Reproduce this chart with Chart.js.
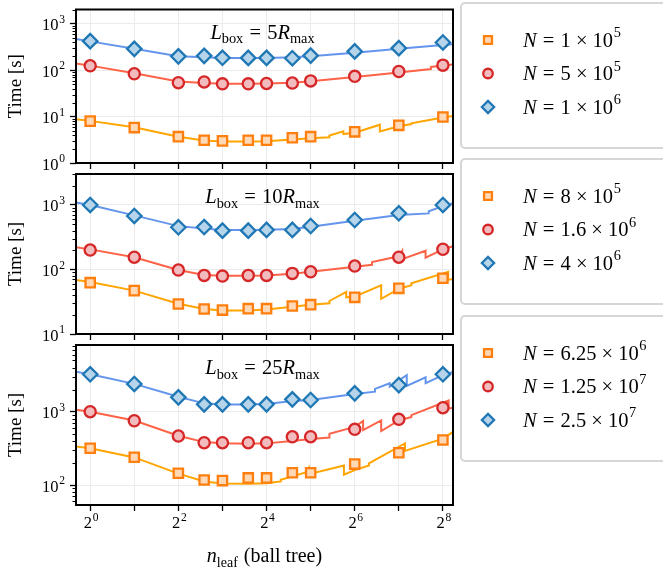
<!DOCTYPE html>
<html>
<head>
<meta charset="utf-8">
<script src="https://cdn.jsdelivr.net/npm/chart.js@4.4.0/dist/chart.umd.min.js"></script>
<style>
  body { margin: 0; background: #fff; }
  #wrap { position: relative; width: 663px; height: 574px; }
  #wrap canvas { position: absolute; left: 0; top: 0; }
</style>
</head>
<body>
<div id="wrap">
  <canvas id="c1" width="663" height="574"></canvas>
  <canvas id="c2" width="663" height="574"></canvas>
  <canvas id="c3" width="663" height="574"></canvas>
</div>
<script>
// measured leaf sizes (x of the markers)
const nLeaf = [1, 2, 4, 6, 8, 12, 16, 24, 32, 64, 128, 256];
const xTicks = [1, 2, 4, 8, 16, 32, 64, 128, 256];

// ---- panel 1 : L_box = 5 R_max
const p1Box = '5';
const p1Names = [['1', '5'], ['5', '5'], ['1', '6']];
const p1Square = [8.0, 5.8, 3.7, 3.1, 3.0, 3.1, 3.1, 3.5, 3.7, 4.7, 6.5, 9.8];
const p1Circle = [125, 84, 54, 56, 51, 51, 52, 53, 59, 74, 94, 129];
const p1Diamond = [425, 290, 200, 205, 186, 185, 185, 182, 207, 255, 300, 398];
const p1SqLineX = [0.8, 1, 2, 4, 6, 8, 12, 16, 24, 32, 43, 43, 53.5, 53.5, 64, 95, 95, 128, 156, 156, 256, 300];
const p1SqLineY = [8.8, 8.1, 5.9, 3.7, 3.05, 2.9, 2.9, 2.95, 3.2, 3.4, 3.6, 3.9, 4.8, 4.2, 4.5, 6.7, 4.8, 6.2, 6.9, 7.2, 9.6, 10.3];
const p1CiLineX = [0.8, 1, 2, 4, 6, 8, 12, 16, 24, 32, 64, 128, 212, 212, 256, 300];
const p1CiLineY = [140, 126, 86, 57, 53, 51, 51, 52, 54, 58, 72, 90, 106, 118, 126, 133];
const p1DiLineX = [0.8, 1, 2, 4, 6, 8, 12, 16, 24, 32, 64, 128, 256, 300];
const p1DiLineY = [470, 420, 290, 200, 190, 185, 183, 184, 190, 200, 240, 290, 350, 365];

// ---- panel 2 : L_box = 10 R_max
const p2Box = '10';
const p2Names = [['8', '5'], ['1.6', '6'], ['4', '6']];
const p2Square = [62.5, 47, 29.2, 24.4, 23.5, 24.7, 24.7, 27.2, 28.5, 37, 51, 73];
const p2Circle = [200, 155, 98, 81, 79, 81, 81, 87, 92, 113, 155, 206];
const p2Diamond = [1000, 675, 451, 455, 400, 400, 410, 410, 472, 585, 743, 1000];
const p2SqLineX = [0.8, 1, 2, 4, 6, 8, 12, 16, 24, 32, 43, 43, 56, 56, 64, 97, 97, 128, 156, 156, 278, 278, 300];
const p2SqLineY = [69, 64, 47, 29.5, 24.5, 23.2, 23.2, 24, 26.5, 28.5, 30, 32.5, 45, 37, 38, 57, 35, 50, 57, 61, 92, 69, 71];
const p2CiLineX = [0.8, 1, 2, 4, 6, 8, 12, 16, 24, 32, 64, 84, 84, 128, 135, 135, 195, 195, 256, 300];
const p2CiLineY = [222, 205, 155, 98, 82, 80, 80, 81, 86, 92, 110, 118, 130, 160, 195, 145, 195, 152, 205, 230];
const p2DiLineX = [0.8, 1, 2, 4, 6, 8, 12, 16, 24, 32, 64, 128, 205, 205, 256, 300];
const p2DiLineY = [1090, 1000, 690, 470, 430, 410, 410, 412, 425, 460, 570, 700, 740, 800, 960, 1060];

// ---- panel 3 : L_box = 25 R_max
const p3Box = '25';
const p3Names = [['6.25', '6'], ['1.25', '7'], ['2.5', '7']];
const p3Square = [317, 239, 145, 117, 115, 125, 125, 147, 147, 193, 276, 411];
const p3Circle = [1000, 753, 466, 378, 378, 378, 378, 455, 456, 575, 787, 1135];
const p3Diamond = [3240, 2390, 1570, 1260, 1260, 1260, 1260, 1475, 1445, 1780, 2310, 3240];
const p3SqLineX = [0.8, 1, 2, 4, 6, 8, 12, 16, 20, 20, 30, 31, 31, 54, 54, 64, 80, 80, 141, 141, 256, 300];
const p3SqLineY = [335, 318, 238, 143, 112, 105, 104, 106, 112, 118, 150, 170, 140, 185, 138, 160, 185, 198, 370, 292, 430, 530];
const p3CiLineX = [0.8, 1, 2, 4, 6, 8, 12, 16, 24, 32, 43, 43, 64, 73, 73, 97, 97, 128, 156, 156, 280, 280, 300];
const p3CiLineY = [1060, 1000, 760, 470, 385, 370, 365, 370, 400, 425, 445, 500, 620, 750, 560, 760, 545, 760, 850, 900, 1420, 1100, 1130];
const p3DiLineX = [0.8, 1, 2, 4, 6, 8, 12, 16, 24, 32, 64, 88, 88, 111, 111, 145, 145, 195, 195, 256, 300];
const p3DiLineY = [3500, 3250, 2400, 1600, 1300, 1250, 1250, 1270, 1400, 1450, 1750, 1880, 2050, 2440, 2200, 3150, 2250, 2950, 2450, 3150, 3500];

const SERIF = '"Liberation Serif", "DejaVu Serif", serif';

const styles = [
  { line: '#ffa500', edge: '#ff7f0e', face: '#ffd8b6', shape: 'rect', radius: 6.6 },
  { line: '#ff6347', edge: '#d62728', face: '#f2bcbe', shape: 'circle', radius: 5.6 },
  { line: '#6495ed', edge: '#1f77b4', face: '#b6d4ea', shape: 'rectRot', radius: 7.2 }
];

function pts(xs, ys) {
  return xs.map((x, i) => ({ x: x, y: ys[i] }));
}

function fontOf(p, size) {
  const s = (p.sub || p.sup) ? size * 0.7 : size;
  return (p.i ? 'italic ' : '') + s + 'px ' + SERIF;
}

// parts: {t, i: italic, sub, sup, g: gap before in em}
function drawRich(ctx, parts, x, y, size, align) {
  ctx.save();
  ctx.fillStyle = '#000';
  ctx.textBaseline = 'alphabetic';
  ctx.textAlign = 'left';
  let w = 0;
  parts.forEach(p => { ctx.font = fontOf(p, size); w += (p.g || 0) * size + ctx.measureText(p.t).width; });
  let cx = align === 'center' ? x - w / 2 : align === 'right' ? x - w : x;
  parts.forEach(p => {
    ctx.font = fontOf(p, size);
    cx += (p.g || 0) * size;
    const dy = p.sub ? size * 0.24 : p.sup ? -size * 0.45 : 0;
    ctx.fillText(p.t, cx, y + dy);
    cx += ctx.measureText(p.t).width;
  });
  ctx.restore();
}

const extras = {
  id: 'extras',
  afterDatasetsDraw(chart) {
    const ctx = chart.ctx, a = chart.chartArea, ys = chart.scales.y;
    ctx.save();
    // minor ticks on the log y axis
    ctx.strokeStyle = '#000';
    ctx.lineWidth = 1;
    const lo = Math.floor(Math.log10(ys.min)), hi = Math.ceil(Math.log10(ys.max));
    for (let k = lo; k <= hi; k++) {
      for (let m = 2; m <= 9; m++) {
        const v = m * Math.pow(10, k);
        if (v < ys.min || v > ys.max) continue;
        const py = Math.round(ys.getPixelForValue(v)) + 0.5;
        ctx.beginPath();
        ctx.moveTo(a.left - 3.5, py);
        ctx.lineTo(a.left, py);
        ctx.stroke();
      }
    }
    // frame
    ctx.lineWidth = 2;
    ctx.strokeRect(a.left, a.top, a.right - a.left, a.bottom - a.top);
    ctx.restore();
  },
  afterDraw(chart) {
    const ctx = chart.ctx, a = chart.chartArea, o = chart.options.plugins.extras;
    const xs = chart.scales.x, ys = chart.scales.y;

    // tick labels 10^k and 2^k
    ys.ticks.forEach(t => {
      const k = Math.round(Math.log10(t.value));
      drawRich(ctx, [{ t: '10' }, { t: String(k), sup: 1, g: 0.05 }], a.left - 11, ys.getPixelForValue(t.value) + 6.5, 16.5, 'right');
    });
    if (o.last) {
      xs.ticks.forEach(t => {
        const e = Math.round(Math.log2(t.value));
        if (e % 2 !== 0) return;
        drawRich(ctx, [{ t: '2' }, { t: String(e), sup: 1, g: 0.04 }], xs.getPixelForValue(t.value) + 1, 528, 16.5, 'center');
      });
    }

    // panel label
    drawRich(ctx, [
      { t: 'L', i: 1 }, { t: 'box', sub: 1 }, { t: '=', g: 0.3 }, { t: o.box, g: 0.3 }, { t: 'R', i: 1 }, { t: 'max', sub: 1 }
    ], (a.left + a.right) / 2 - 2, a.top + 29, 20.5, 'center');

    // legend box
    ctx.save();
    ctx.strokeStyle = '#d6d6d6';
    ctx.lineWidth = 2;
    ctx.beginPath();
    ctx.roundRect(461, o.legendTop, 240, 145, 4);
    ctx.stroke();
    o.names.forEach((nm, i) => {
      const st = styles[i];
      const cy = o.legendTop + 37 + i * 33.5;
      ctx.fillStyle = st.face;
      ctx.strokeStyle = st.edge;
      ctx.lineWidth = 2.3;
      Chart.helpers.drawPoint(ctx, { pointStyle: st.shape, radius: st.radius * 0.85, rotation: 0, borderWidth: 2.3 }, 488, cy);
      drawRich(ctx, [
        { t: 'N', i: 1 }, { t: '=', g: 0.3 }, { t: nm[0], g: 0.3 }, { t: '×', g: 0.25 }, { t: '10', g: 0.25 }, { t: nm[1], sup: 1, g: 0.03 }
      ], 523, cy + 6.5, 20.5, 'left');
    });
    ctx.restore();

    if (o.last) {
      drawRich(ctx, [
        { t: 'n', i: 1 }, { t: 'leaf', sub: 1 }, { t: '(ball tree)', g: 0.3 }
      ], (a.left + a.right) / 2, 562, 20, 'center');
    }
  }
};

const panels = [
  { id: 'c1', top: 3, bottom: 163, yMin: 1, yMax: 2045, box: p1Box, names: p1Names, legendTop: 3,
    marks: [p1Square, p1Circle, p1Diamond],
    lines: [[p1SqLineX, p1SqLineY], [p1CiLineX, p1CiLineY], [p1DiLineX, p1DiLineY]] },
  { id: 'c2', top: 174, bottom: 334, yMin: 10, yMax: 3020, box: p2Box, names: p2Names, legendTop: 159,
    marks: [p2Square, p2Circle, p2Diamond],
    lines: [[p2SqLineX, p2SqLineY], [p2CiLineX, p2CiLineY], [p2DiLineX, p2DiLineY]] },
  { id: 'c3', top: 345, bottom: 505, yMin: 53.4, yMax: 8130, box: p3Box, names: p3Names, legendTop: 316,
    marks: [p3Square, p3Circle, p3Diamond],
    lines: [[p3SqLineX, p3SqLineY], [p3CiLineX, p3CiLineY], [p3DiLineX, p3DiLineY]], last: true }
];

panels.forEach(p => {
  const xh = p.last ? 30 : 10;
  const datasets = [];
  p.marks.forEach((vals, i) => {
    const st = styles[i];
    datasets.push({
      data: pts(nLeaf, vals),
      showLine: false,
      pointStyle: st.shape,
      pointRadius: st.radius,
      pointBorderWidth: 2.3,
      pointBackgroundColor: st.face,
      pointBorderColor: st.edge
    });
  });
  p.lines.forEach((ln, i) => {
    datasets.push({
      data: pts(ln[0], ln[1]),
      showLine: true,
      borderColor: styles[i].line,
      borderWidth: 2,
      pointRadius: 0,
      fill: false
    });
  });

  new Chart(document.getElementById(p.id), {
    type: 'scatter',
    data: { datasets: datasets },
    options: {
      responsive: false,
      animation: false,
      layout: { padding: { left: 0, right: 210, top: p.top, bottom: 574 - p.bottom - xh } },
      plugins: {
        legend: { display: false },
        tooltip: { enabled: false },
        extras: { box: p.box, names: p.names, legendTop: p.legendTop, last: !!p.last }
      },
      scales: {
        x: {
          type: 'logarithmic',
          min: 0.8,
          max: 300,
          afterBuildTicks: s => { s.ticks = xTicks.map(v => ({ value: v })); },
          afterFit: s => { s.height = xh; },
          grid: { color: '#ebebeb', lineWidth: 1, tickColor: '#000', tickLength: 6, tickWidth: 1.3 },
          border: { display: false },
          ticks: { display: false }
        },
        y: {
          type: 'logarithmic',
          min: p.yMin,
          max: p.yMax,
          afterBuildTicks: s => {
            const t = [];
            for (let k = Math.ceil(Math.log10(p.yMin) - 1e-9); Math.pow(10, k) <= p.yMax; k++) t.push({ value: Math.pow(10, k) });
            s.ticks = t;
          },
          afterFit: s => { s.width = 76; },
          grid: { color: '#ebebeb', lineWidth: 1, tickColor: '#000', tickLength: 6, tickWidth: 1.3 },
          border: { display: false },
          title: { display: true, text: 'Time [s]', color: '#000', font: { family: SERIF, size: 19 }, padding: { top: 5, bottom: 0 } },
          ticks: { display: false }
        }
      }
    },
    plugins: [extras]
  });
});
</script>
</body>
</html>
